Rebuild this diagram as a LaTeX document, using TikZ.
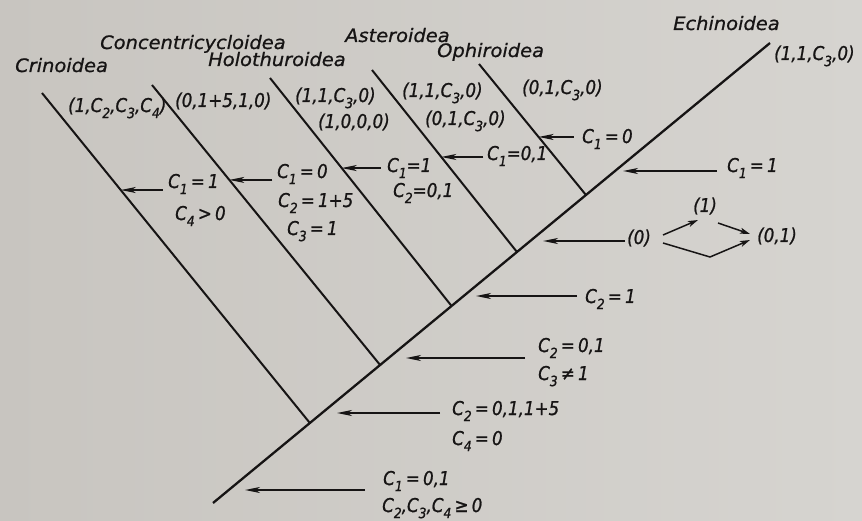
\documentclass[tikz,border=0pt]{standalone}
\usepackage{fontspec}
\setmainfont{DejaVu Sans}
\newfontfamily\lblfont{DejaVu Sans}[FakeStretch=0.88,FakeBold=1]
\newfontfamily\namefont{DejaVu Sans}[FakeStretch=1.05,FakeBold=0.8]
\usetikzlibrary{arrows.meta,calc}
\definecolor{ink}{RGB}{22,20,20}
\definecolor{bgL}{RGB}{200,197,192}
\definecolor{bgR}{RGB}{214,212,208}
\newcommand\sbx[1]{\raisebox{-0.32em}{\fontsize{14}{14}\selectfont #1}}
\begin{document}
\begin{tikzpicture}[x=1pt,y=-1pt,
  lbl/.style={anchor=base west, inner sep=0pt, text=ink, font=\lblfont\itshape\fontsize{19}{21}\selectfont},
  nm/.style={anchor=base west, inner sep=0pt, text=ink, font=\namefont\itshape\fontsize{18.5}{20}\selectfont},
  trunk/.style={draw=ink, line width=2.3pt},
  branch/.style={draw=ink, line width=2.0pt},
  ptr/.style={draw=ink, line width=1.5pt, -{Stealth[length=15pt,width=6pt,inset=4pt]}},
  sptr/.style={draw=ink, line width=1.5pt, -{Stealth[length=10pt,width=6pt,inset=2.5pt]}}]
\useasboundingbox (0,0) rectangle (862,521);
\shade[left color=bgL,right color=bgR] (0,0) rectangle (862,521);

% trunk and junctions
\coordinate (mb) at (213,503);
\coordinate (mt) at (770,43);
\coordinate (j1) at ($(mb)!0.1739!(mt)$);
\coordinate (j2) at ($(mb)!0.3!(mt)$);
\coordinate (j3) at ($(mb)!0.4283!(mt)$);
\coordinate (j4) at ($(mb)!0.5457!(mt)$);
\coordinate (j5) at ($(mb)!0.6696!(mt)$);
% branch tops
\coordinate (b1) at (42,93);
\coordinate (b2) at (152,85);
\coordinate (b3) at (270,78);
\coordinate (b4) at (372,70);
\coordinate (b5) at (479,64);

\draw[trunk] (mb) -- (mt);
\draw[branch] (b1) -- (j1);
\draw[branch] (b2) -- (j2);
\draw[branch] (b3) -- (j3);
\draw[branch] (b4) -- (j4);
\draw[branch] (b5) -- (j5);

% names
\node[nm] (crin) at (15,72) {Crinoidea};
\node[nm] (conc) at (100,49) {Concentricycloidea};
\node[nm] (holo) at (208,66) {Holothuroidea};
\node[nm] (aster) at (345,42) {Asteroidea};
\node[nm] (ophi) at (437,57) {Ophiroidea};
\node[nm] (echi) at (673,30) {Echinoidea};

% tuples
\node[lbl] (tcrin) at (68,112) {(1,C\sbx{2},C\sbx{3},C\sbx{4})};
\node[lbl] (tconc) at (175,107) {(0,1+5,1,0)};
\node[lbl] (tholoA) at (295,102) {(1,1,C\sbx{3},0)};
\node[lbl] (tholoB) at (318,128) {(1,0,0,0)};
\node[lbl] (tastA) at (402,97) {(1,1,C\sbx{3},0)};
\node[lbl] (tastB) at (425,125) {(0,1,C\sbx{3},0)};
\node[lbl] (tophi) at (522,94) {(0,1,C\sbx{3},0)};
\node[lbl] (techi) at (774,60) {(1,1,C\sbx{3},0)};

% conditions
\node[lbl] (c1) at (168,188) {C\sbx{1}\,=\,1};
\node[lbl] (c2) at (175,220) {C\sbx{4}\,>\,0};
\node[lbl] (c3) at (277,178) {C\sbx{1}\,=\,0};
\node[lbl] (c4) at (278,207) {C\sbx{2}\,=\,1+5};
\node[lbl] (c5) at (287,235) {C\sbx{3}\,=\,1};
\node[lbl] (c6) at (387,172) {C\sbx{1}=1};
\node[lbl] (c7) at (393,197) {C\sbx{2}=0,1};
\node[lbl] (c8) at (487,160) {C\sbx{1}=0,1};
\node[lbl] (c9) at (582,143) {C\sbx{1}\,=\,0};
\node[lbl] (c10) at (727,172) {C\sbx{1}\,=\,1};
\node[lbl] (s0) at (627,244) {(0)};
\node[lbl] (s1) at (693,212) {(1)};
\node[lbl] (s01) at (757,242) {(0,1)};
\node[lbl] (c11) at (585,303) {C\sbx{2}\,=\,1};
\node[lbl] (c12) at (538,352) {C\sbx{2}\,=\,0,1};
\node[lbl] (c13) at (538,380) {C\sbx{3}\,≠\,1};
\node[lbl] (c14) at (452,415) {C\sbx{2}\,=\,0,1,1+5};
\node[lbl] (c15) at (452,445) {C\sbx{4}\,=\,0};
\node[lbl] (c16) at (383,485) {C\sbx{1}\,=\,0,1};
\node[lbl] (c17) at (382,512) {C\sbx{2},C\sbx{3},C\sbx{4}\,≥\,0};

% arrows onto branches
\coordinate (p1) at ($(b1)!0.294!(j1)$); \coordinate (q1) at ($(p1)+(42,0)$);
\coordinate (p2) at ($(b2)!0.339!(j2)$); \coordinate (q2) at ($(p2)+(43,0)$);
\coordinate (p3) at ($(b3)!0.395!(j3)$); \coordinate (q3) at ($(p3)+(39,0)$);
\coordinate (p4) at ($(b4)!0.478!(j4)$); \coordinate (q4) at ($(p4)+(42,0)$);
\coordinate (p5) at ($(b5)!0.557!(j5)$); \coordinate (q5) at ($(p5)+(35,0)$);
\draw[ptr] (q1) -- (p1);
\draw[ptr] (q2) -- (p2);
\draw[ptr] (q3) -- (p3);
\draw[ptr] (q4) -- (p4);
\draw[ptr] (q5) -- (p5);

% arrows towards trunk
\coordinate (q6) at (717,171); \coordinate (p6) at (623,171);
\coordinate (q7) at (625,241); \coordinate (p7) at (543,241);
\coordinate (q8) at (577,296); \coordinate (p8) at (476,296);
\coordinate (q9) at (525,358); \coordinate (p9) at (406,358);
\coordinate (q10) at (440,413); \coordinate (p10) at (337,413);
\coordinate (q11) at (365,490); \coordinate (p11) at (245,490);
\draw[ptr] (q6) -- (p6);
\draw[ptr] (q7) -- (p7);
\draw[ptr] (q8) -- (p8);
\draw[ptr] (q9) -- (p9);
\draw[ptr] (q10) -- (p10);
\draw[ptr] (q11) -- (p11);

% small transition diagram
\coordinate (u0) at (663,235); \coordinate (u1) at (698,220);
\coordinate (v0) at (718,223); \coordinate (v1) at (750,234);
\coordinate (w0) at (663,243); \coordinate (w1) at (710,257); \coordinate (w2) at (750,240);
\draw[sptr] (u0) -- (u1);
\draw[sptr] (v0) -- (v1);
\draw[sptr] (w0) -- (w1) -- (w2);
\end{tikzpicture}
\end{document}
